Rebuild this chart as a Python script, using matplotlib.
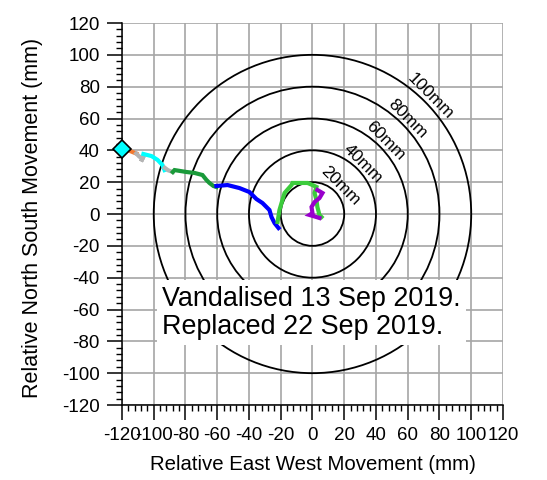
import matplotlib
matplotlib.use("Agg")
import matplotlib.pyplot as plt
from matplotlib.patches import Circle
from matplotlib.ticker import MultipleLocator

plt.rcParams['font.family'] = ['Liberation Sans', 'DejaVu Sans']
plt.rcParams['axes.unicode_minus'] = False

# reference rings (mm)
radii = [20, 40, 60, 80, 100]

# movement track, one list per colour segment (east, north in mm)
orange_x = [-120, -116, -111]
orange_y = [41, 40, 38]
grey1_x = [-111, -109, -107, -108, -106]
grey1_y = [38, 36, 35, 33, 37]
cyan_x = [-106.5, -101.4, -97.6, -94.5, -93.2]
cyan_y = [37.7, 36.4, 34.0, 30.8, 27.6]
grey2_x = [-93, -91, -88]
grey2_y = [29, 27.5, 26.4]
green_x = [-88, -86.9, -79.4, -74.3, -69.3, -66.8, -64.9, -62.4, -60.5]
green_y = [26.4, 27.6, 26.4, 25.8, 24.5, 21.4, 19.5, 17.6, 17.0]
blue_x = [-60.5, -53.5, -46.0, -39.7, -35.3, -31.5, -27.1, -25.8, -23.9, -21.4]
blue_y = [17.6, 18.2, 16.3, 13.8, 9.4, 6.9, 2.5, -1.9, -5.7, -8.8]
lime_x = [-22, -20.8, -19.5, -17.6, -13.2, -12.6, -8.2, -3.1, 0, 2.5, 1.3, 2.5, 3.1, 4.4, 5.7]
lime_y = [-5, 2.5, 6.9, 13.2, 18.2, 19.5, 19.5, 19.5, 18.2, 17, 13.2, 8.8, 4.4, -0.6, -1.9]
purple_x = [3.1, 6.3, 4.4, 1.3, -0.6, 0, -1.9, 2.5, 4.4]
purple_y = [15.1, 13.2, 10.0, 7.5, 4.4, 0.6, -0.6, -1.9, -2.5]
start_x, start_y = -120, 41

note = "Vandalised 13 Sep 2019.\nReplaced 22 Sep 2019."

fig = plt.figure(figsize=(5.47, 4.8), dpi=100)
ax = fig.add_axes([0.2230, 0.15625, 0.6965, 0.7958])

ax.set_xlim(-120, 120)
ax.set_ylim(-120, 120)
ax.xaxis.set_major_locator(MultipleLocator(20))
ax.yaxis.set_major_locator(MultipleLocator(20))
ax.xaxis.set_minor_locator(MultipleLocator(4))
ax.yaxis.set_minor_locator(MultipleLocator(4))
ax.grid(True, which='major', color='#a6a6a6', lw=1.2, zorder=0)
ax.set_axisbelow(True)
for s in ['top', 'right']:
    ax.spines[s].set_visible(False)
for s in ['left', 'bottom']:
    ax.spines[s].set_linewidth(1.1)
ax.tick_params(which='major', length=11, width=1.1, labelsize=13.5, pad=5)
ax.tick_params(which='minor', length=4, width=1.0)

for r in radii:
    ax.add_patch(Circle((0, 0), r, fill=False, ec='black', lw=1.3, zorder=2))
    d = r * 0.7071
    ax.text(d, d, f"{r}mm", rotation=-45, rotation_mode='anchor',
            ha='center', va='bottom', fontsize=12.5, zorder=3)

segs = [(orange_x, orange_y, '#f47a30'), (grey1_x, grey1_y, '#b4b4b4'),
        (cyan_x, cyan_y, '#00ffff'), (grey2_x, grey2_y, '#b4b4b4'),
        (green_x, green_y, '#1a9a3a'), (blue_x, blue_y, '#0000ff'),
        (lime_x, lime_y, '#3ccc3c'), (purple_x, purple_y, '#9900cc')]
for xs, ys, c in segs:
    ax.plot(xs, ys, color=c, lw=3, zorder=4, solid_joinstyle='miter')

ax.plot([start_x], [start_y], marker='D', ms=9, mfc='#00ffff', mec='black',
        mew=1.2, ls='none', zorder=5, clip_on=False)

ax.text(-94.5, -45.0, note, ha='left', va='top', fontsize=19.4,
        linespacing=1.1, zorder=6,
        bbox=dict(boxstyle='square,pad=0.2', fc='white', ec='none'))

ax.set_xlabel("Relative East West Movement (mm)", fontsize=14.7, labelpad=8)
ax.set_ylabel("Relative North South Movement (mm)", fontsize=15.5)
ax.yaxis.set_label_coords(-0.207, 0.49)

fig.savefig("out.png", dpi=100)
